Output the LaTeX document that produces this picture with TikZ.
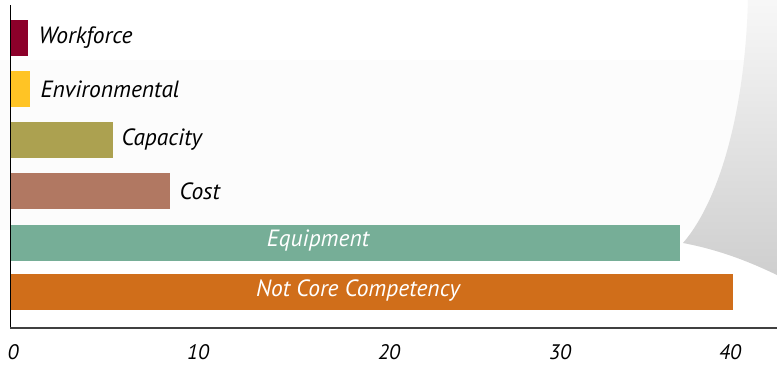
\documentclass[tikz,border=0pt]{standalone}
\usepackage{fontspec}
\setmainfont{PT Sans}
\usetikzlibrary{positioning, calc}

\definecolor{workred}{RGB}{140,0,42}
\definecolor{envyellow}{RGB}{255,196,37}
\definecolor{capolive}{RGB}{172,161,80}
\definecolor{costbrown}{RGB}{177,120,98}
\definecolor{equipgreen}{RGB}{118,174,151}
\definecolor{coreorange}{RGB}{208,110,26}

\tikzset{
  bar/.style={rectangle, inner sep=0pt, minimum height=36pt, anchor=west},
  barlabel/.style={font=\fontsize{23.5}{27}\selectfont\itshape, inner sep=0pt},
  ticklabel/.style={font=\fontsize{21}{25}\selectfont\itshape, inner sep=0pt}
}

\begin{document}
\begin{tikzpicture}[x=1pt, y=-1pt]
    \useasboundingbox (0,0) rectangle (777,365);
    \fill [white] (0,0) rectangle (777,365);

    % background swoosh
    \fill [gray!2] (0,60) rectangle (777,230);
    \shade [top color=gray!6, bottom color=gray!38]
        (748,0) .. controls (745,110) and (720,200) .. (683,243)
        .. controls (720,250) and (750,262) .. (777,275) -- (777,0) -- cycle;
    \shade [inner color=gray!14, outer color=gray!2] (560,245) ellipse (120 and 14);

    % bars
    \node (workforce) at (10,38) [bar, fill=workred, minimum width=18pt] {};
    \node (environ) at (10,89) [bar, fill=envyellow, minimum width=20pt] {};
    \node (capacity) at (10,140) [bar, fill=capolive, minimum width=103pt] {};
    \node (cost) at (10,191) [bar, fill=costbrown, minimum width=160pt] {};
    \node (equipment) at (10,243) [bar, fill=equipgreen, minimum width=670pt] {};
    \node (notcore) at (10,292) [bar, fill=coreorange, minimum width=723pt] {};

    % labels
    \node (workforcelbl) [barlabel, right=10pt of workforce] {Workforce};
    \node (environlbl) [barlabel, right=10pt of environ] {Environmental};
    \node (capacitylbl) [barlabel, right=8pt of capacity] {Capacity};
    \node (costlbl) [barlabel, right=9pt of cost] {Cost};
    \node (equipmentlbl) at (318,241) [barlabel, text=white] {Equipment};
    \node (notcorelbl) at (358,291) [barlabel, text=white] {Not Core Competency};

    % axes
    \coordinate (ytop) at (10,5);
    \coordinate (origin) at (10,328);
    \coordinate (xend) at (777,328);
    \draw [line width=1pt] (ytop) -- (origin);
    \draw [line width=1.6pt, black!75] (origin) -- (xend);

    \foreach \val/\xpos in {0/13, 10/198, 20/389, 30/560, 40/730}
        \node (tick\val) at (\xpos,352) [ticklabel] {\val};
\end{tikzpicture}
\end{document}
